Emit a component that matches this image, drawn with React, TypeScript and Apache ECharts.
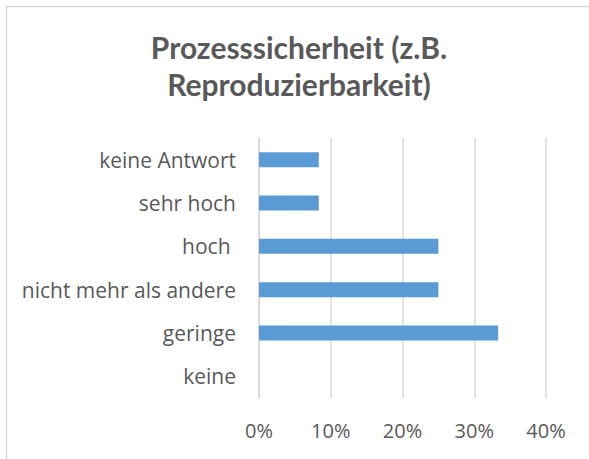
import React, { useEffect, useRef } from "react";
import * as echarts from "echarts";

const titleLines = ["Prozesssicherheit (z.B.", "Reproduzierbarkeit)"];
const categories = ["keine Antwort", "sehr hoch", "hoch ", "nicht mehr als andere", "geringe", "keine"];
const values = [8.33, 8.33, 25, 25, 33.33, 0];
const axisMax = 40;
const axisInterval = 10;

export default function App() {
  const ref = useRef<HTMLDivElement>(null);
  useEffect(() => {
    if (!ref.current) return;
    const chart = echarts.init(ref.current, null, { renderer: "svg" });
    chart.setOption({
      animation: false,
      backgroundColor: "#ffffff",
      graphic: [
        {
          type: "rect",
          shape: { x: 6.5, y: 6.5, width: 620, height: 500 },
          style: { fill: "none", stroke: "#d9d9d9", lineWidth: 1.5 },
          silent: true,
        },
        {
          type: "text",
          x: 299,
          y: 28,
          style: {
            text: titleLines.join("\n"),
            textAlign: "center",
            textVerticalAlign: "top",
            font: "bold 30px Lato",
            lineHeight: 37,
            fill: "#595959",
          },
        },
      ],
      grid: { left: 259, right: 43, top: 138, bottom: 61, containLabel: false },
      xAxis: {
        type: "value",
        min: 0,
        max: axisMax,
        interval: axisInterval,
        axisLine: { show: false },
        axisTick: { show: false },
        splitLine: { show: true, lineStyle: { color: "#d9d9d9", width: 1.5 } },
        axisLabel: {
          formatter: "{value}%",
          color: "#595959",
          fontFamily: "Open Sans",
          fontSize: 20,
          margin: 22,
        },
      },
      yAxis: {
        type: "category",
        data: categories,
        inverse: true,
        axisLine: { show: true, lineStyle: { color: "#d9d9d9", width: 1.5 } },
        axisTick: { show: false },
        axisLabel: {
          color: "#595959",
          fontFamily: "Open Sans",
          fontSize: 21,
          margin: 23,
        },
      },
      series: [
        {
          type: "bar",
          data: values,
          barWidth: 15,
          itemStyle: { color: "#5b9bd5" },
        },
      ],
    });
    return () => chart.dispose();
  }, []);
  return (
    <div
      ref={ref}
      style={{ position: "fixed", left: 0, top: 0, width: 589, height: 459 }}
    />
  );
}
